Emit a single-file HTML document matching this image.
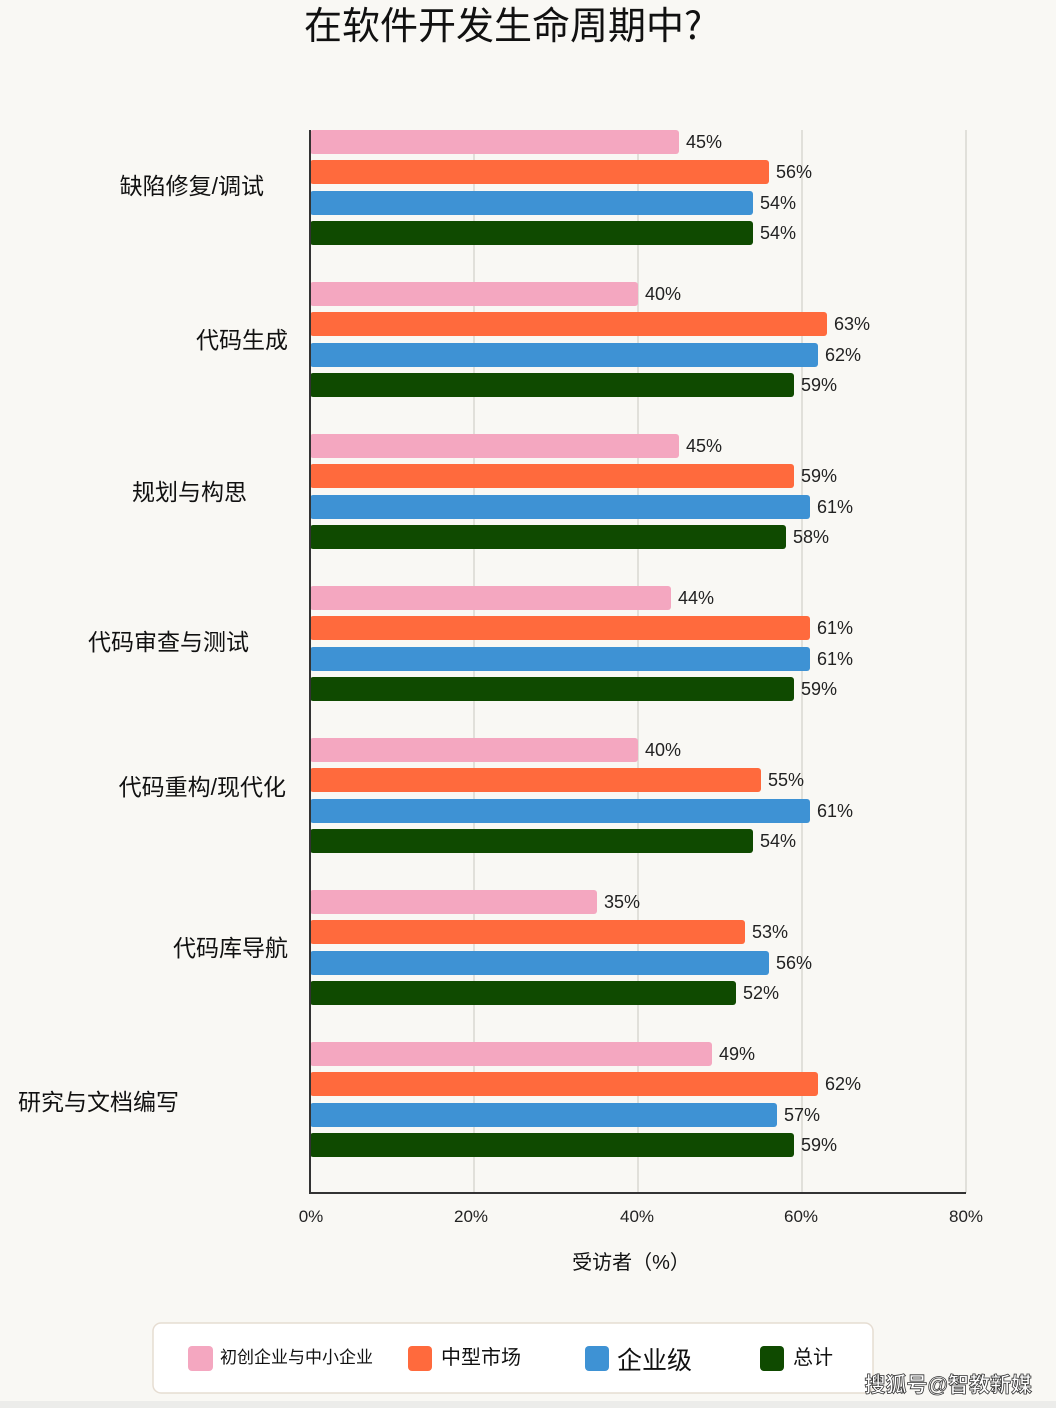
<!DOCTYPE html>
<html><head><meta charset="utf-8"><style>
html,body{margin:0;padding:0;background:#f9f8f4;}
svg{display:block;font-family:"Liberation Sans","Noto Sans CJK SC",sans-serif;}
</style></head><body>
<svg width="1056" height="1408" viewBox="0 0 1056 1408" xmlns="http://www.w3.org/2000/svg">
<rect width="1056" height="1408" fill="#f9f8f4"/>
<text x="503" y="39" font-size="38" text-anchor="middle" fill="#111" font-family="Noto Sans CJK SC, sans-serif">在软件开发生命周期中?</text>
<g stroke="#d9d7d2" stroke-width="1.5">
<line x1="474" y1="130" x2="474" y2="1193"/><line x1="638" y1="130" x2="638" y2="1193"/>
<line x1="802" y1="130" x2="802" y2="1193"/><line x1="966" y1="130" x2="966" y2="1193"/>
</g>
<g font-size="18" fill="#222">
<rect x="310" y="130" width="369" height="24" rx="3" fill="#f4a7c0"/><text x="686" y="148">45%</text>
<rect x="310" y="160" width="459" height="24" rx="3" fill="#ff6a3d"/><text x="776" y="178">56%</text>
<rect x="310" y="191" width="443" height="24" rx="3" fill="#3e92d4"/><text x="760" y="209">54%</text>
<rect x="310" y="221" width="443" height="24" rx="3" fill="#0f4a00"/><text x="760" y="239">54%</text>
<rect x="310" y="282" width="328" height="24" rx="3" fill="#f4a7c0"/><text x="645" y="300">40%</text>
<rect x="310" y="312" width="517" height="24" rx="3" fill="#ff6a3d"/><text x="834" y="330">63%</text>
<rect x="310" y="343" width="508" height="24" rx="3" fill="#3e92d4"/><text x="825" y="361">62%</text>
<rect x="310" y="373" width="484" height="24" rx="3" fill="#0f4a00"/><text x="801" y="391">59%</text>
<rect x="310" y="434" width="369" height="24" rx="3" fill="#f4a7c0"/><text x="686" y="452">45%</text>
<rect x="310" y="464" width="484" height="24" rx="3" fill="#ff6a3d"/><text x="801" y="482">59%</text>
<rect x="310" y="495" width="500" height="24" rx="3" fill="#3e92d4"/><text x="817" y="513">61%</text>
<rect x="310" y="525" width="476" height="24" rx="3" fill="#0f4a00"/><text x="793" y="543">58%</text>
<rect x="310" y="586" width="361" height="24" rx="3" fill="#f4a7c0"/><text x="678" y="604">44%</text>
<rect x="310" y="616" width="500" height="24" rx="3" fill="#ff6a3d"/><text x="817" y="634">61%</text>
<rect x="310" y="647" width="500" height="24" rx="3" fill="#3e92d4"/><text x="817" y="665">61%</text>
<rect x="310" y="677" width="484" height="24" rx="3" fill="#0f4a00"/><text x="801" y="695">59%</text>
<rect x="310" y="738" width="328" height="24" rx="3" fill="#f4a7c0"/><text x="645" y="756">40%</text>
<rect x="310" y="768" width="451" height="24" rx="3" fill="#ff6a3d"/><text x="768" y="786">55%</text>
<rect x="310" y="799" width="500" height="24" rx="3" fill="#3e92d4"/><text x="817" y="817">61%</text>
<rect x="310" y="829" width="443" height="24" rx="3" fill="#0f4a00"/><text x="760" y="847">54%</text>
<rect x="310" y="890" width="287" height="24" rx="3" fill="#f4a7c0"/><text x="604" y="908">35%</text>
<rect x="310" y="920" width="435" height="24" rx="3" fill="#ff6a3d"/><text x="752" y="938">53%</text>
<rect x="310" y="951" width="459" height="24" rx="3" fill="#3e92d4"/><text x="776" y="969">56%</text>
<rect x="310" y="981" width="426" height="24" rx="3" fill="#0f4a00"/><text x="743" y="999">52%</text>
<rect x="310" y="1042" width="402" height="24" rx="3" fill="#f4a7c0"/><text x="719" y="1060">49%</text>
<rect x="310" y="1072" width="508" height="24" rx="3" fill="#ff6a3d"/><text x="825" y="1090">62%</text>
<rect x="310" y="1103" width="467" height="24" rx="3" fill="#3e92d4"/><text x="784" y="1121">57%</text>
<rect x="310" y="1133" width="484" height="24" rx="3" fill="#0f4a00"/><text x="801" y="1151">59%</text>
</g>
<line x1="310" y1="130" x2="310" y2="1194" stroke="#333" stroke-width="2"/>
<line x1="309" y1="1193" x2="966" y2="1193" stroke="#333" stroke-width="2"/>
<g font-size="23" fill="#111" text-anchor="end">
<text x="264" y="194">缺陷修复/调试</text>
<text x="288" y="348">代码生成</text>
<text x="247" y="500">规划与构思</text>
<text x="249" y="650">代码审查与测试</text>
<text x="286" y="795">代码重构/现代化</text>
<text x="288" y="956">代码库导航</text>
<text x="179" y="1110">研究与文档编写</text>
</g>
<g font-size="17" fill="#222" text-anchor="middle">
<text x="311" y="1222">0%</text><text x="471" y="1222">20%</text><text x="637" y="1222">40%</text>
<text x="801" y="1222">60%</text><text x="966" y="1222">80%</text>
</g>
<text x="631" y="1269" font-size="20" text-anchor="middle" fill="#111">受访者（%）</text>
<rect x="153" y="1323" width="720" height="70" rx="8" fill="#fff" stroke="#e6ddd2" stroke-width="1.5"/>
<rect x="188" y="1346" width="25" height="25" rx="4" fill="#f4a7c0"/>
<text x="220" y="1363" font-size="17" fill="#111">初创企业与中小企业</text>
<rect x="408" y="1346" width="24" height="25" rx="4" fill="#ff6a3d"/>
<text x="441" y="1364" font-size="20" fill="#111">中型市场</text>
<rect x="585" y="1346" width="24" height="25" rx="4" fill="#3e92d4"/>
<text x="617" y="1369" font-size="25" fill="#111">企业级</text>
<rect x="760" y="1346" width="24" height="25" rx="4" fill="#0f4a00"/>
<text x="793" y="1364" font-size="20" fill="#111">总计</text>
<rect x="0" y="1401" width="1056" height="7" fill="#ececea"/>
<text x="1032" y="1392" font-size="21" text-anchor="end" fill="#fff" stroke="#333" stroke-width="0.8" font-weight="bold">搜狐号@智教新媒</text>
</svg>
</body></html>
